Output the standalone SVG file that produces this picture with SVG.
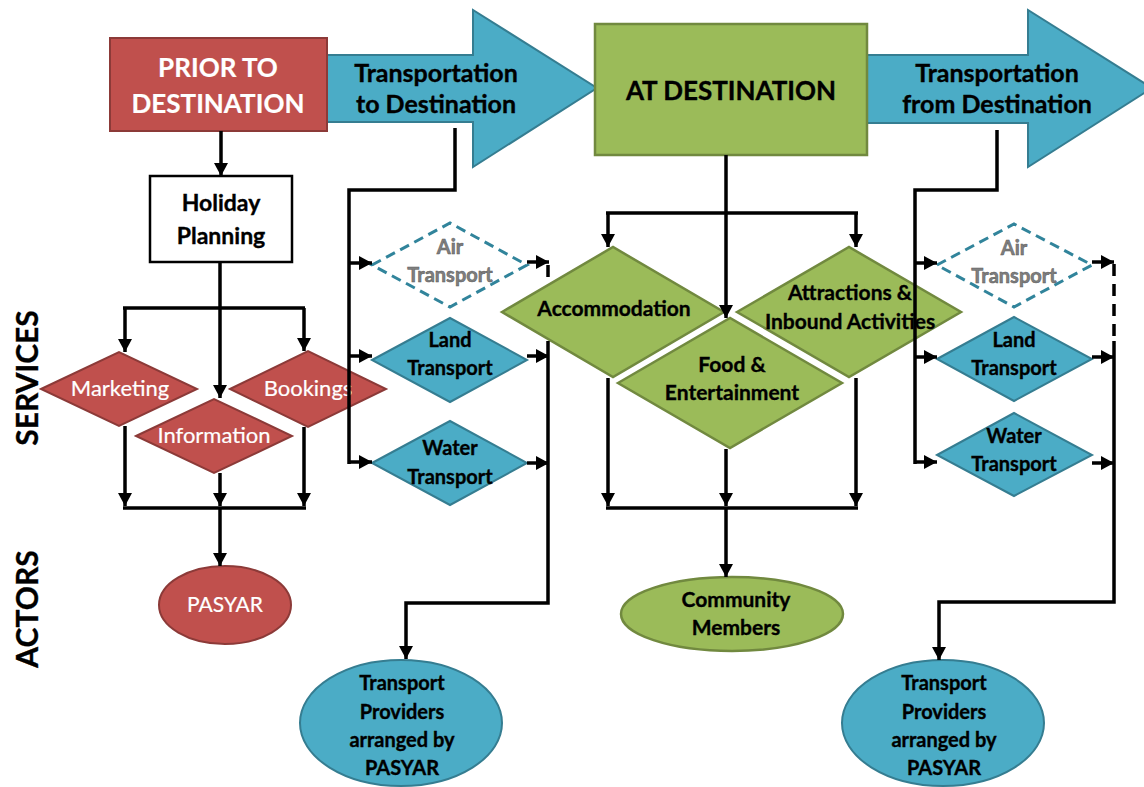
<svg xmlns="http://www.w3.org/2000/svg" width="1144" height="787" viewBox="0 0 1144 787">
<defs>
<style>
.t{font-family:Lato,"Liberation Sans",Arial,sans-serif;font-weight:bold;text-anchor:middle;fill:#000;stroke:#000;stroke-width:0.35}
.w{fill:#fff;stroke:#fff;stroke-width:0.2}
.reg{font-weight:normal}
.gray{fill:#7f7f7f;stroke:#595959;stroke-width:0.5}
.red{fill:#c0504d;stroke:#8c3a38;stroke-width:2}
.blue{fill:#4bacc6;stroke:#357d91;stroke-width:2}
.green{fill:#9bbb59;stroke:#71893f;stroke-width:2.5}
.dash{fill:#fff;stroke:#31849b;stroke-width:3;stroke-dasharray:10 6}
.c{fill:none;stroke:#000;stroke-width:3.5}
.a{marker-end:url(#ah)}
.d{stroke-dasharray:12 8}
</style>
<marker id="ah" markerUnits="userSpaceOnUse" markerWidth="13" markerHeight="14" viewBox="0 0 13 14" refX="13" refY="7" orient="auto">
<path d="M0,0 L13,7 L0,14 z" fill="#000"/>
</marker>
</defs>

<g id="side-labels">
<text class="t" font-size="30" transform="translate(38,378) rotate(-90)">SERVICES</text>
<text class="t" font-size="30" transform="translate(38,609) rotate(-90)">ACTORS</text>
</g>

<g id="arrow-to-destination">
<polygon class="blue" points="327,55 473,55 473,10 597,88 473,167 473,122 327,122"/>
<text class="t" font-size="25" x="436" y="82">Transportation</text>
<text class="t" font-size="25" x="436" y="113">to Destination</text>
</g>

<g id="arrow-from-destination">
<polygon class="blue" points="866,55 1028,55 1028,10 1152,88 1028,167 1028,123 866,123"/>
<text class="t" font-size="25" x="997" y="82">Transportation</text>
<text class="t" font-size="25" x="997" y="113">from Destination</text>
</g>

<g id="prior-to-destination">
<rect class="red" x="110" y="38" width="217" height="93"/>
<text class="t w" font-size="26" x="218" y="77">PRIOR TO</text>
<text class="t w" font-size="26" x="218" y="113">DESTINATION</text>
</g>

<g id="at-destination">
<rect class="green" x="595" y="24" width="272" height="131"/>
<text class="t" font-size="26" x="731" y="100">AT DESTINATION</text>
</g>

<g id="holiday-planning">
<rect x="150" y="176" width="142" height="86" fill="#fff" stroke="#000" stroke-width="2.5"/>
<text class="t" font-size="23" x="221" y="211">Holiday</text>
<text class="t" font-size="23" x="221" y="244">Planning</text>
</g>

<g id="marketing">
<polygon class="red" points="41,389 119,352 197,389 119,426"/>
<text class="t w reg" font-size="22" x="120" y="396">Marketing</text>
</g>
<g id="bookings">
<polygon class="red" points="230,389 308,351 386,389 308,427"/>
<text class="t w reg" font-size="22" x="308" y="396">Bookings</text>
</g>
<g id="information">
<polygon class="red" points="136,436 214,399 292,436 214,473"/>
<text class="t w reg" font-size="22" x="214" y="443">Information</text>
</g>

<g id="pasyar">
<ellipse class="red" cx="225" cy="605" rx="66" ry="39"/>
<text class="t w reg" font-size="21" x="225" y="612">PASYAR</text>
</g>

<g id="air-transport-1">
<polygon class="dash" points="372,265 450,223 527,265 450,307"/>
<text class="t gray" font-size="20" x="450" y="254">Air</text>
<text class="t gray" font-size="20" x="450" y="282">Transport</text>
</g>
<g id="land-transport-1">
<polygon class="blue" points="372,360 450,318 527,360 450,402"/>
<text class="t" font-size="20" x="450" y="347">Land</text>
<text class="t" font-size="20" x="450" y="375">Transport</text>
</g>
<g id="water-transport-1">
<polygon class="blue" points="372,463 450,421 527,463 450,505"/>
<text class="t" font-size="20" x="450" y="455">Water</text>
<text class="t" font-size="20" x="450" y="484">Transport</text>
</g>

<g id="accommodation">
<polygon class="green" points="502,312 613,247 724,312 613,377"/>
<text class="t" font-size="21" x="614" y="316">Accommodation</text>
</g>
<g id="attractions">
<polygon class="green" points="737,312 849,247 961,312 849,377"/>
<text class="t" font-size="21" x="850" y="300">Attractions &amp;</text>
<text class="t" font-size="21" x="850" y="329">Inbound Activities</text>
</g>
<g id="food-entertainment">
<polygon class="green" points="618,383 730,318 842,383 730,448"/>
<text class="t" font-size="21" x="732" y="372">Food &amp;</text>
<text class="t" font-size="21" x="732" y="400">Entertainment</text>
</g>

<g id="community-members">
<ellipse class="green" cx="732" cy="614" rx="111" ry="37"/>
<text class="t" font-size="21" x="736" y="607">Community</text>
<text class="t" font-size="21" x="736" y="635">Members</text>
</g>

<g id="air-transport-2">
<polygon class="dash" points="937,265 1014,224 1092,265 1014,307"/>
<text class="t gray" font-size="20" x="1014" y="255">Air</text>
<text class="t gray" font-size="20" x="1014" y="283">Transport</text>
</g>
<g id="land-transport-2">
<polygon class="blue" points="937,359 1014,317 1092,359 1014,401"/>
<text class="t" font-size="20" x="1014" y="347">Land</text>
<text class="t" font-size="20" x="1014" y="375">Transport</text>
</g>
<g id="water-transport-2">
<polygon class="blue" points="937,455 1014,413 1092,455 1014,496"/>
<text class="t" font-size="20" x="1014" y="443">Water</text>
<text class="t" font-size="20" x="1014" y="471">Transport</text>
</g>

<g id="transport-providers-1">
<ellipse class="blue" cx="401" cy="723" rx="101" ry="63"/>
<text class="t" font-size="20" x="402" y="690">Transport</text>
<text class="t" font-size="20" x="402" y="719">Providers</text>
<text class="t" font-size="20" x="402" y="747">arranged by</text>
<text class="t" font-size="20" x="402" y="775">PASYAR</text>
</g>
<g id="transport-providers-2">
<ellipse class="blue" cx="943" cy="723" rx="101" ry="63"/>
<text class="t" font-size="20" x="944" y="690">Transport</text>
<text class="t" font-size="20" x="944" y="719">Providers</text>
<text class="t" font-size="20" x="944" y="747">arranged by</text>
<text class="t" font-size="20" x="944" y="775">PASYAR</text>
</g>

<g id="connectors">
<path class="c a" d="M221,131 V176"/>
<path class="c a" d="M220,262 V398"/>
<path class="c" d="M123,308 H305"/>
<path class="c a" d="M125,308 V352"/>
<path class="c a" d="M304,308 V351"/>
<path class="c a" d="M125,426 V506"/>
<path class="c a" d="M220,473 V506"/>
<path class="c a" d="M304,427 V506"/>
<path class="c" d="M123,508 H306"/>
<path class="c a" d="M220,508 V566"/>
<path class="c" d="M455,128 V190 H349 V464"/>
<path class="c a" d="M349,263 H372"/>
<path class="c a" d="M349,356 H372"/>
<path class="c a" d="M349,462 H372"/>
<path class="c a" d="M527,262 H549"/>
<path class="c a" d="M527,356 H549"/>
<path class="c a" d="M527,463 H549"/>
<path class="c d" d="M548,265 V283"/>
<path class="c a" d="M548,341 V603 H406 V659"/>
<path class="c a" d="M726,155 V318"/>
<path class="c" d="M606,213 H858"/>
<path class="c a" d="M608,213 V247"/>
<path class="c a" d="M856,213 V247"/>
<path class="c a" d="M608,378 V506"/>
<path class="c a" d="M726,449 V506"/>
<path class="c a" d="M856,378 V506"/>
<path class="c" d="M606,508 H858"/>
<path class="c a" d="M726,508 V577"/>
<path class="c" d="M997,130 V190 H915 V464"/>
<path class="c a" d="M915,263 H937"/>
<path class="c a" d="M915,357 H937"/>
<path class="c a" d="M915,462 H937"/>
<path class="c a" d="M1092,262 H1114"/>
<path class="c a" d="M1092,357 H1114"/>
<path class="c a" d="M1092,463 H1114"/>
<path class="c d" d="M1114,264 V338"/>
<path class="c a" d="M1114,341 V602 H939 V660"/>
</g>
</svg>
